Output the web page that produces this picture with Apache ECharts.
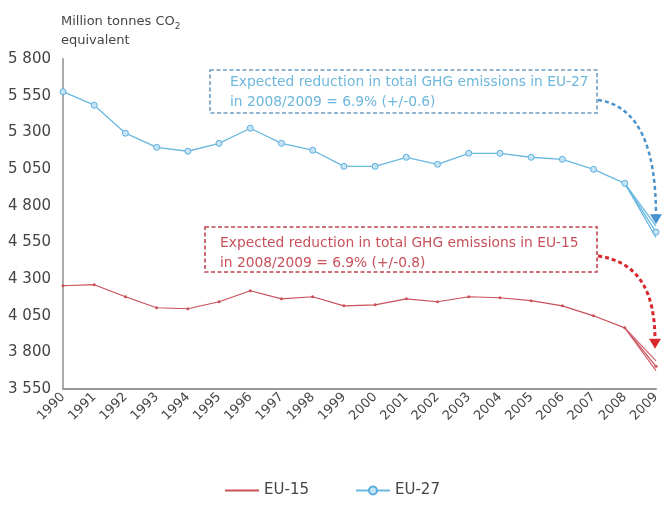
<!DOCTYPE html>
<html>
<head>
<meta charset="utf-8">
<script src="https://cdn.jsdelivr.net/npm/echarts@6/dist/echarts.min.js"></script>
<style>html,body{margin:0;padding:0;background:#fff}#c{width:664px;height:506px}</style>
</head>
<body>
<div id="c"></div>
<script>
var years = ['1990','1991','1992','1993','1994','1995','1996','1997','1998','1999','2000','2001','2002','2003','2004','2005','2006','2007','2008','2009'];
var eu15 = [4254,4261,4179,4104,4097,4145,4220,4165,4179,4117,4124,4165,4145,4179,4172,4152,4117,4049,3967,3705];
var eu27 = [5577,5485,5294,5198,5171,5225,5328,5225,5178,5068,5068,5130,5082,5157,5157,5130,5116,5048,4952,4620];
var eu15High = [null,null,null,null,null,null,null,null,null,null,null,null,null,null,null,null,null,null,3967,3742];
var eu15Low  = [null,null,null,null,null,null,null,null,null,null,null,null,null,null,null,null,null,null,3967,3675];
var eu27High = [null,null,null,null,null,null,null,null,null,null,null,null,null,null,null,null,null,null,4952,4660];
var eu27Low  = [null,null,null,null,null,null,null,null,null,null,null,null,null,null,null,null,null,null,4952,4583];
var yTicks = [3550,3800,4050,4300,4550,4800,5050,5300,5550,5800];
var noteEU27 = ['Expected reduction in total GHG emissions in EU-27', 'in 2008/2009 = 6.9% (+/-0.6)'];
var noteEU15 = ['Expected reduction in total GHG emissions in EU-15', 'in 2008/2009 = 6.9% (+/-0.8)'];

var FONT = 'Verdana, "DejaVu Sans", sans-serif';
var chart = echarts.init(document.getElementById('c'));
function fmt(v){ return String(v).replace(/\B(?=(\d{3})+(?!\d))/g, ' '); }

var option = {
  backgroundColor: '#fff',
  animation: false,
  title: {
    text: 'Million tonnes CO{s|2}\nequivalent',
    left: 56, top: 7,
    textStyle: {
      fontFamily: FONT, fontSize: 13, fontWeight: 'normal', color: '#444', lineHeight: 19,
      rich: { s: { fontSize: 9, verticalAlign: 'bottom', padding: [6,0,0,0], fontFamily: FONT, color: '#444' } }
    }
  },
  grid: { left: 63, right: 8, top: 59, bottom: 117, containLabel: false },
  legend: {
    bottom: 3, left: 'center', itemGap: 46, itemWidth: 34, itemHeight: 10,
    data: [{ name: 'EU-15', itemStyle: { opacity: 0 } }, 'EU-27'],
    textStyle: { fontFamily: FONT, fontSize: 15, color: '#444' }
  },
  xAxis: {
    type: 'category', data: years, boundaryGap: false,
    axisLine: { lineStyle: { color: '#999', width: 2 } },
    axisTick: { show: false },
    axisLabel: { rotate: 45, fontFamily: FONT, fontSize: 13, color: '#444', margin: 6, interval: 0 }
  },
  yAxis: {
    type: 'value', min: 3550, max: 5800,
    axisLine: { show: true, lineStyle: { color: '#aaa', width: 2 } },
    axisTick: { show: false },
    splitLine: { show: false },
    axisLabel: { customValues: yTicks, formatter: fmt, fontFamily: FONT, fontSize: 15, color: '#444', margin: 12 }
  },
  series: [
    { name: 'EU-15', type: 'line', data: eu15, symbol: 'circle', symbolSize: 3,
      lineStyle: { color: '#c9515a', width: 1.2 }, itemStyle: { color: '#c9515a' } },
    { name: 'EU-27', type: 'line', data: eu27, symbol: 'circle', symbolSize: 6,
      lineStyle: { color: '#6ab8e0', width: 1.3 }, itemStyle: { color: '#c6e4f4', borderColor: '#5aaee0', borderWidth: 1 } },
    { name: 'EU-15 high', type: 'line', data: eu15High, symbol: 'none', lineStyle: { color: '#d0606a', width: 1.2 } },
    { name: 'EU-15 low', type: 'line', data: eu15Low, symbol: 'none', lineStyle: { color: '#d0606a', width: 1.2 } },
    { name: 'EU-27 high', type: 'line', data: eu27High, symbol: 'none', lineStyle: { color: '#6ab8e0', width: 1.3 } },
    { name: 'EU-27 low', type: 'line', data: eu27Low, symbol: 'none', lineStyle: { color: '#6ab8e0', width: 1.3 } }
  ]
};
chart.setOption(option);

function arrow(start, end, color, width) {
  var c1 = [start[0] + 42, start[1] + 6];
  var c2 = [end[0], start[1] + (end[1] - start[1]) * 0.4];
  return [
    { type: 'bezierCurve', silent: true,
      shape: { x1: start[0], y1: start[1], cpx1: c1[0], cpy1: c1[1], cpx2: c2[0], cpy2: c2[1], x2: end[0], y2: end[1] - 8 },
      style: { stroke: color, lineWidth: width, lineDash: [4, 3], fill: null } },
    { type: 'polygon', silent: true,
      shape: { points: [[end[0] - 6, end[1] - 10], [end[0] + 6, end[1] - 10], [end[0], end[1]]] },
      style: { fill: color } }
  ];
}
function box(x, y, w, h, stroke, textColor, lines, tx, ty) {
  return [
    { type: 'rect', silent: true, shape: { x: x, y: y, width: w, height: h },
      style: { stroke: stroke, lineWidth: 1.6, lineDash: [4, 2.5], fill: 'rgba(255,255,255,0.9)' } },
    { type: 'text', silent: true, x: x + tx, y: y + ty,
      style: { text: lines.join('\n'), fontFamily: FONT, fontSize: 13.8, lineHeight: 20, fill: textColor } }
  ];
}
var p27 = chart.convertToPixel({ gridIndex: 0 }, ['2009', eu27High[19]]);
var p15 = chart.convertToPixel({ gridIndex: 0 }, ['2009', eu15High[19]]);
var g = [];
g = g.concat(box(210, 70, 387, 43, '#6f9cc0', '#6db8dc', noteEU27, 20, 2));
g = g.concat(box(205, 227, 392, 45, '#c04650', '#c8505a', noteEU15, 15, 6));
g = g.concat(arrow([598, 100], [p27[0], p27[1] - 2], '#4b93cc', 2.5));
g = g.concat(arrow([598, 256], [p15[0] - 1, p15[1] - 12], '#d8282c', 3));
chart.setOption({ graphic: g });
</script>
</body>
</html>
